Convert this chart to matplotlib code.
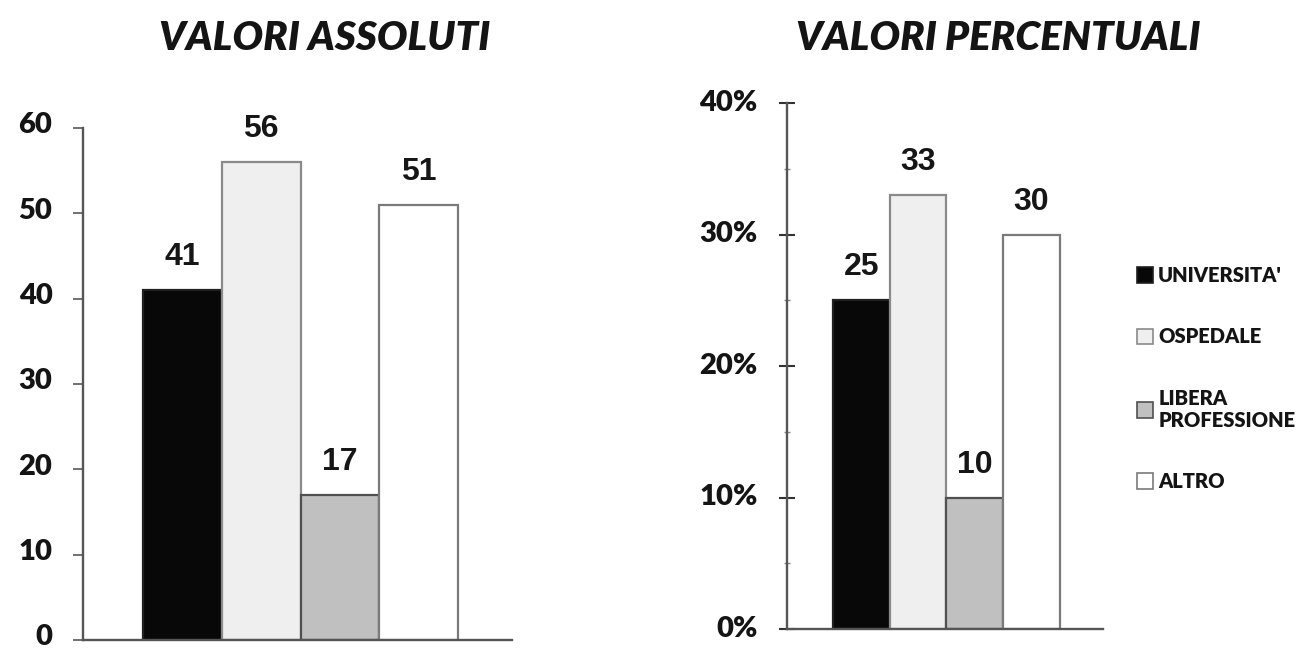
import numpy as np
import matplotlib.pyplot as plt
import matplotlib.transforms as mtransforms
from matplotlib.patches import Patch
from matplotlib.ticker import MultipleLocator, FuncFormatter

# dati
categorie = ["UNIVERSITA'", "OSPEDALE", "LIBERA\nPROFESSIONE", "ALTRO"]
valori_assoluti = [41, 56, 17, 51]
valori_percentuali = [25, 33, 10, 30]
colori = ["#080808", "#efefef", "#c0c0c0", "#ffffff"]
bordi = ["#202020", "#8a8a8a", "#505050", "#7a7a7a"]

font_titolo = ["Lato", "DejaVu Sans"]
font_assi = ["Lato", "DejaVu Sans"]
font_valori = ["Liberation Sans", "DejaVu Sans"]

fig = plt.figure(figsize=(13.05, 6.5), dpi=100)
ax1 = fig.add_axes([0.0636, 0.0154, 0.3287, 0.7877])
ax2 = fig.add_axes([0.603, 0.0323, 0.242, 0.8092])

x = np.arange(len(categorie))


def disegna(ax, valori, ymax, xlim, perc=False, alza=3):
    bars = ax.bar(x, valori, width=1.0, color=colori, edgecolor=bordi,
                  linewidth=1.6, zorder=2)
    for b, v in zip(bars, valori):
        ax.annotate(str(v), (b.get_x() + b.get_width() / 2, v),
                    xytext=(0, 18), textcoords="offset points",
                    ha="center", va="baseline", fontsize=23, fontweight="bold",
                    family=font_valori, color="#161616")
    ax.set_ylim(0, ymax)
    ax.set_xlim(*xlim)
    ax.yaxis.set_major_locator(MultipleLocator(10))
    if perc:
        ax.yaxis.set_major_formatter(FuncFormatter(lambda v, p: f"{v:.0f}%"))
        ax.yaxis.set_minor_locator(MultipleLocator(5))
        ax.tick_params(axis="y", which="major", direction="inout", length=12,
                       width=1.5, color="#333333", pad=15)
        ax.tick_params(axis="y", which="minor", direction="inout", length=5,
                       width=1, color="#888888")
    else:
        ax.tick_params(axis="y", which="major", direction="out", length=7,
                       width=1.3, color="#666666", pad=15)
    ax.set_xticks([])
    su = mtransforms.ScaledTranslation(0, alza / 100, fig.dpi_scale_trans)
    for lab in ax.get_yticklabels():
        lab.set_fontfamily(font_assi)
        lab.set_fontweight("heavy")
        lab.set_fontsize(21)
        lab.set_color("#141414")
        lab.set_transform(lab.get_transform() + su)
    for s in ["top", "right"]:
        ax.spines[s].set_visible(False)
    for s in ["left", "bottom"]:
        ax.spines[s].set_color("#555555")
        ax.spines[s].set_linewidth(1.7)


disegna(ax1, valori_assoluti, 60, (-1.26, 4.18), alza=5)
disegna(ax2, valori_percentuali, 40, (-1.31, 4.26), perc=True, alza=3)

fig.text(325 / 1305, 1 - 38 / 650, "VALORI ASSOLUTI", ha="center", va="center",
         fontsize=29, fontweight="heavy", style="italic", family=font_titolo,
         color="#141414")
fig.text(998 / 1305, 1 - 38 / 650, "VALORI PERCENTUALI", ha="center", va="center",
         fontsize=29, fontweight="heavy", style="italic", family=font_titolo,
         color="#141414")

handles = [Patch(facecolor=c, edgecolor=e, linewidth=1.2) for c, e in zip(colori, bordi)]
leg = fig.legend(handles, categorie, loc="upper left",
                 bbox_to_anchor=(1137 / 1305, 1 - 266 / 650),
                 frameon=False, borderpad=0, borderaxespad=0,
                 handlelength=0.8, handleheight=0.8, handletextpad=0.25,
                 labelspacing=2.1,
                 prop={"family": font_assi, "weight": "heavy", "size": 14.5})
for t in leg.get_texts():
    t.set_color("#141414")

fig.savefig("out.png", dpi=100, facecolor="white")
